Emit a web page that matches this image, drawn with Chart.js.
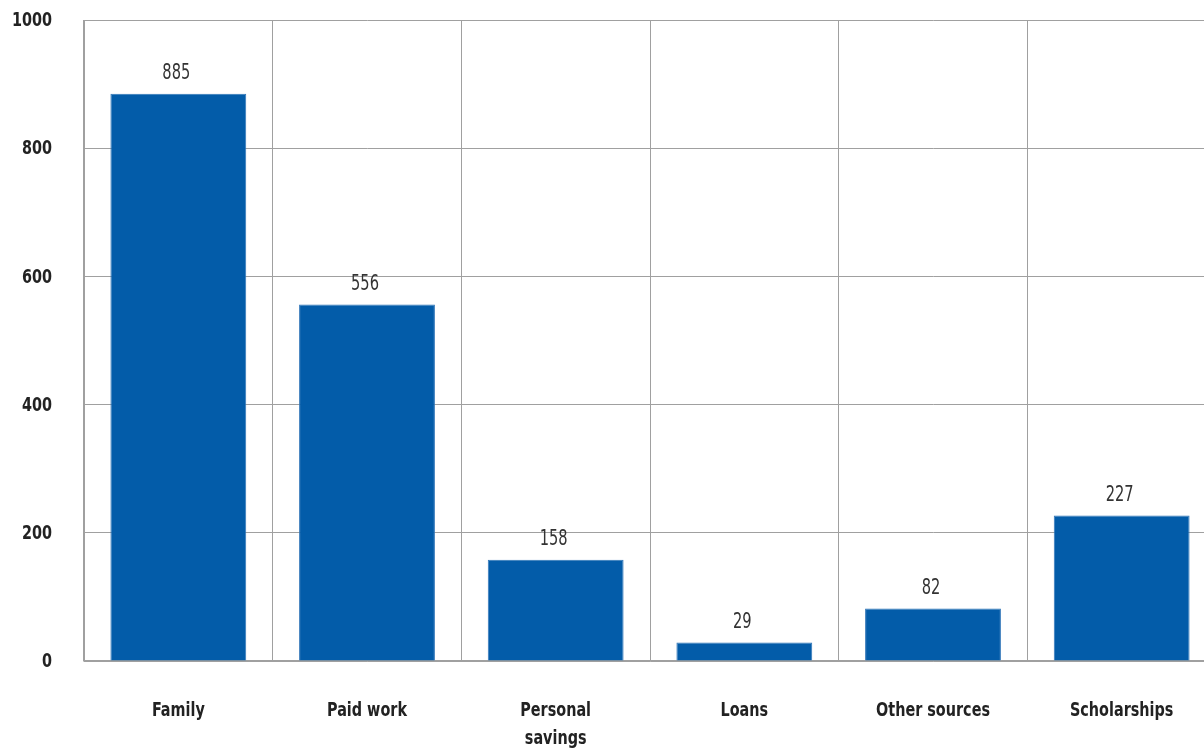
<!DOCTYPE html>
<html>
<head>
<meta charset="utf-8">
<script src="https://cdn.jsdelivr.net/npm/chart.js@4"></script>
<style>
  html, body { margin: 0; padding: 0; background: #fff; overflow: hidden; }
  #wrap { width: 1216px; height: 748px; }
</style>
</head>
<body>
<div id="wrap"><canvas id="chart"></canvas></div>
<script>
// chart data
const categories = ['Family', 'Paid work', ['Personal', 'savings'], 'Loans', 'Other sources', 'Scholarships'];
const values = [885, 556, 158, 29, 82, 227];
const yTicks = [0, 200, 400, 600, 800, 1000];

const barBlue = '#035ca9';
const gridGrey = '#a0a0a0';
const fontFamily = '"DejaVu Sans Condensed", "Liberation Sans", Arial, sans-serif';

// the original face is narrower than anything installed, so squeeze it a bit
function narrowText(ctx, text, x, y, align, squeeze) {
  ctx.save();
  ctx.translate(x, y);
  ctx.scale(squeeze, 1);
  ctx.textAlign = align;
  ctx.fillText(text, 0, 0);
  ctx.restore();
}

// axis labels and values above the bars, drawn through the scales
const labelsPlugin = {
  id: 'labelsPlugin',
  afterDraw(chart) {
    const ctx = chart.ctx;
    const xs = chart.scales.x;
    const ys = chart.scales.y;
    ctx.save();
    ctx.textBaseline = 'middle';

    ctx.fillStyle = '#222';
    ctx.font = 'bold 20px ' + fontFamily;
    yTicks.forEach(v => {
      narrowText(ctx, String(v), ys.right - 32, ys.getPixelForValue(v) + 1, 'right', 0.8);
    });

    categories.forEach((c, i) => {
      const lines = Array.isArray(c) ? c : [c];
      const x = xs.getPixelForValue(i);
      lines.forEach((line, j) => {
        narrowText(ctx, line, x, xs.top + 50 + j * 28, 'center', 0.8);
      });
    });

    ctx.fillStyle = '#333';
    ctx.font = '22px ' + fontFamily;
    chart.getDatasetMeta(0).data.forEach((bar, i) => {
      narrowText(ctx, String(values[i]), bar.x - 2, bar.y - 20, 'center', 0.74);
    });
    ctx.restore();
  }
};

new Chart(document.getElementById('chart'), {
  type: 'bar',
  data: {
    labels: categories,
    datasets: [{
      data: values,
      backgroundColor: barBlue,
      borderColor: '#2f75b8',
      borderWidth: 1,
      barPercentage: 0.72,
      categoryPercentage: 1
    }]
  },
  options: {
    responsive: true,
    maintainAspectRatio: false,
    animation: false,
    layout: { padding: { top: 20, right: 0, bottom: 0, left: 0 } },
    plugins: {
      legend: { display: false },
      tooltip: { enabled: false }
    },
    scales: {
      x: {
        grid: { color: gridGrey, lineWidth: 1, drawTicks: false, offset: true },
        border: { color: gridGrey, width: 1.5 },
        ticks: { display: false },
        afterFit(scale) { scale.height = 87; }
      },
      y: {
        min: 0,
        max: 1000,
        afterBuildTicks(scale) { scale.ticks = yTicks.map(v => ({ value: v })); },
        grid: { color: gridGrey, lineWidth: 1, drawTicks: false },
        border: { color: gridGrey, width: 1 },
        ticks: { display: false },
        afterFit(scale) { scale.width = 84; }
      }
    }
  },
  plugins: [labelsPlugin]
});
</script>
</body>
</html>
